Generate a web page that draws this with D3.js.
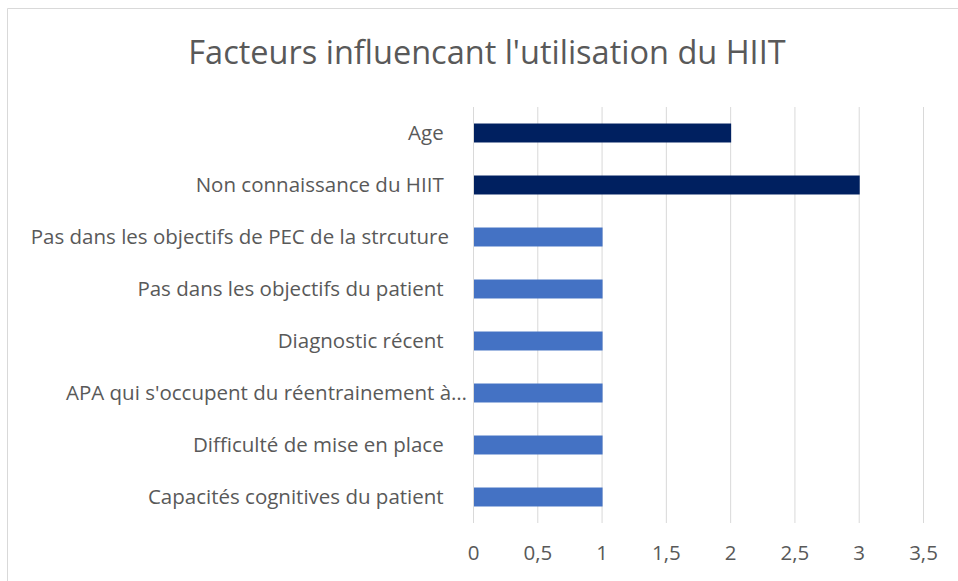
<!DOCTYPE html>
<html>
<head>
<meta charset="utf-8">
<script src="https://cdn.jsdelivr.net/npm/d3@7"></script>
<style>
  body { margin: 0; background: #fff; }
  svg { display: block; font-family: "Open Sans", sans-serif; }
</style>
</head>
<body>
<div id="chart"></div>
<script>
const title = "Facteurs influencant l'utilisation du HIIT";
const categories = [
  'Age ',
  'Non connaissance du HIIT ',
  'Pas dans les objectifs de PEC de la strcuture',
  'Pas dans les objectifs du patient ',
  'Diagnostic récent ',
  "APA qui s'occupent du réentrainement à…",
  'Difficulté de mise en place ',
  'Capacités cognitives du patient '
];
const values = [2, 3, 1, 1, 1, 1, 1, 1];
const highlighted = [true, true, false, false, false, false, false, false];
const xTicks = [0, 0.5, 1, 1.5, 2, 2.5, 3, 3.5];

const width = 958, height = 581;
const margin = { top: 107, right: 35, bottom: 58, left: 473 };

const svg = d3.select('#chart')
  .append('svg')
  .attr('width', width)
  .attr('height', height);

// chart frame (only the left and top edges are in frame)
svg.append('path')
  .attr('d', `M7.5,${height} V8.5 H${width}`)
  .attr('fill', 'none')
  .attr('stroke', '#d9d9d9')
  .attr('stroke-width', 1);

svg.append('text')
  .attr('x', 487)
  .attr('y', 64)
  .attr('text-anchor', 'middle')
  .attr('fill', '#595959')
  .attr('font-size', '32.5px')
  .text(title);

const x = d3.scaleLinear()
  .domain([0, 3.5])
  .range([margin.left, width - margin.right]);

const y = d3.scaleBand()
  .domain(categories)
  .range([margin.top, height - margin.bottom])
  .paddingInner(0.635)
  .paddingOuter(0.3175);

const chart = svg.append('g');

chart.append('g')
  .selectAll('line')
  .data(xTicks)
  .enter()
  .append('line')
  .attr('x1', d => x(d) + 0.5)
  .attr('x2', d => x(d) + 0.5)
  .attr('y1', margin.top)
  .attr('y2', height - margin.bottom)
  .attr('stroke', '#d9d9d9')
  .attr('stroke-width', 1);

chart.append('g')
  .selectAll('rect')
  .data(values)
  .enter()
  .append('rect')
  .attr('x', x(0) + 1)
  .attr('y', (d, i) => y(categories[i]))
  .attr('width', d => x(d) - x(0))
  .attr('height', y.bandwidth())
  .attr('fill', (d, i) => highlighted[i] ? '#002060' : '#4472c4');

// category labels, the cut-off one sits closer to the axis
chart.append('g')
  .selectAll('text')
  .data(categories)
  .enter()
  .append('text')
  .attr('x', d => d.endsWith('…') ? x(0) - 6 : x(0) - 24)
  .attr('y', d => y(d) + y.bandwidth() / 2)
  .attr('dy', '0.36em')
  .attr('text-anchor', 'end')
  .attr('fill', '#595959')
  .attr('font-size', '20.5px')
  .attr('xml:space', 'preserve')
  .style('white-space', 'pre')
  .text(d => d);

const xAxis = d3.axisBottom(x)
  .tickValues(xTicks)
  .tickSize(0)
  .tickPadding(22)
  .tickFormat(d => String(d).replace('.', ','));

chart.append('g')
  .attr('transform', `translate(0,${height - margin.bottom})`)
  .call(xAxis)
  .call(g => g.select('.domain').remove())
  .call(g => g.selectAll('text')
    .attr('fill', '#595959')
    .attr('font-size', '20.5px')
    .attr('font-family', '"Open Sans", sans-serif'));
</script>
</body>
</html>
